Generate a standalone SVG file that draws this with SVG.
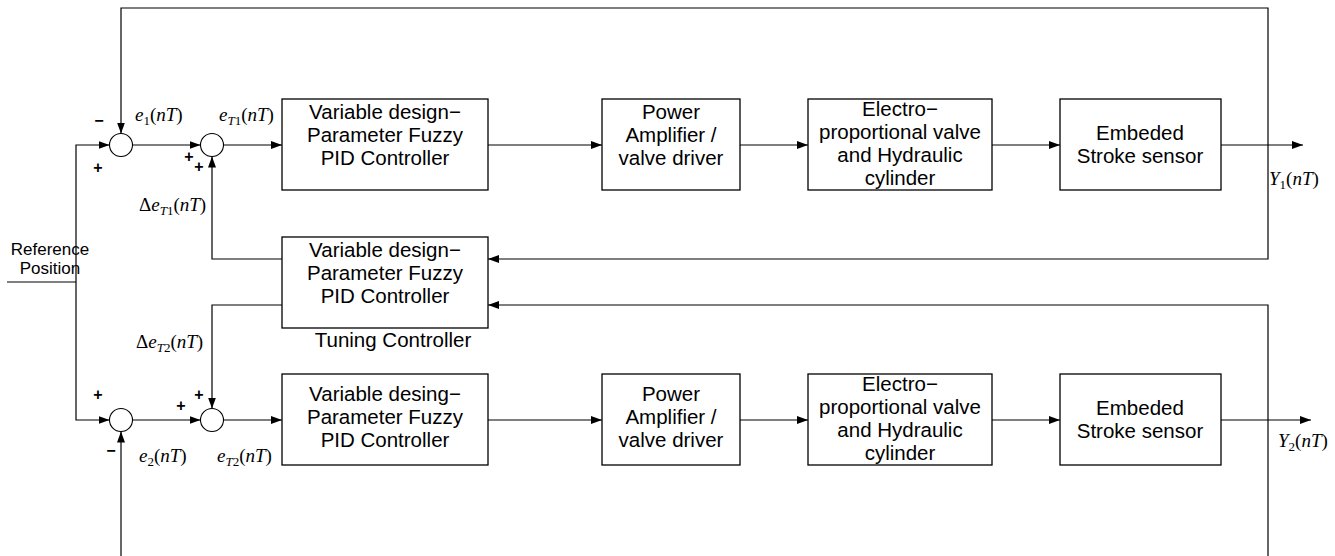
<svg xmlns="http://www.w3.org/2000/svg" width="1335" height="556" viewBox="0 0 1335 556">
<defs>
<marker id="arr" markerWidth="12" markerHeight="10" refX="11" refY="4" orient="auto" markerUnits="userSpaceOnUse"><path d="M0,0 L11,4 L0,8 z" fill="#000"/></marker>
<style>
.box{fill:#fff;stroke:#000;stroke-width:1.3}
.sum{fill:#fff;stroke:#000;stroke-width:1.1}
.ln{fill:none;stroke:#000;stroke-width:1.2}
.bt{font-family:"Liberation Sans",Arial,sans-serif;font-size:20.5px;text-anchor:middle;fill:#000}
.lbl{font-family:"Liberation Sans",Arial,sans-serif;font-size:17px;text-anchor:middle;fill:#000}
.sg{font-family:"Liberation Sans",Arial,sans-serif;font-size:16px;font-weight:bold;text-anchor:middle;fill:#000}
.m{font-family:"Liberation Serif","Times New Roman",serif;font-size:19px;fill:#000}
.i{font-style:italic}
.s{font-size:13px}
</style>
</defs>
<rect width="1335" height="556" fill="#fff"/>
<g id="connectors">
<path class="ln" d="M7,282 H76"/>
<path class="ln" d="M76,282 V145 H109.5" marker-end="url(#arr)"/>
<path class="ln" d="M76,282 V420 H109.5" marker-end="url(#arr)"/>
<path class="ln" d="M132.5,145 H200.5" marker-end="url(#arr)"/>
<path class="ln" d="M223.5,145 H282" marker-end="url(#arr)"/>
<path class="ln" d="M488,145 H602" marker-end="url(#arr)"/>
<path class="ln" d="M740,145 H808" marker-end="url(#arr)"/>
<path class="ln" d="M992,145 H1060" marker-end="url(#arr)"/>
<path class="ln" d="M1221,145 H1303" marker-end="url(#arr)"/>
<path class="ln" d="M1268,145 V8 H121 V133.5" marker-end="url(#arr)"/>
<path class="ln" d="M1268,145 V259 H488" marker-end="url(#arr)"/>
<path class="ln" d="M282,259 H212 V156.5" marker-end="url(#arr)"/>
<path class="ln" d="M282,305 H212 V408.5" marker-end="url(#arr)"/>
<path class="ln" d="M132.5,420 H200.5" marker-end="url(#arr)"/>
<path class="ln" d="M223.5,420 H282" marker-end="url(#arr)"/>
<path class="ln" d="M488,420 H602" marker-end="url(#arr)"/>
<path class="ln" d="M740,420 H808" marker-end="url(#arr)"/>
<path class="ln" d="M992,420 H1060" marker-end="url(#arr)"/>
<path class="ln" d="M1221,420 H1311" marker-end="url(#arr)"/>
<path class="ln" d="M1268,420 V305 H488" marker-end="url(#arr)"/>
<path class="ln" d="M1268,420 V556"/>
<path class="ln" d="M121,556 V431.5" marker-end="url(#arr)"/>
</g>
<g id="sum1"><circle class="sum" cx="121" cy="145" r="11.5"/></g>
<g id="sum2"><circle class="sum" cx="212" cy="145" r="11.5"/></g>
<g id="sum3"><circle class="sum" cx="121" cy="420" r="11.5"/></g>
<g id="sum4"><circle class="sum" cx="212" cy="420" r="11.5"/></g>
<g id="fuzzy1"><rect class="box" x="282" y="99" width="206" height="91"/>
<text class="bt" x="385" y="119">Variable design−</text><text class="bt" x="385" y="142">Parameter Fuzzy</text><text class="bt" x="385" y="165">PID Controller</text></g>
<g id="amp1"><rect class="box" x="602" y="99" width="138" height="91"/>
<text class="bt" x="671" y="119">Power</text><text class="bt" x="671" y="142">Amplifier /</text><text class="bt" x="671" y="165">valve driver</text></g>
<g id="valve1"><rect class="box" x="808" y="99" width="184" height="91"/>
<text class="bt" x="900" y="116">Electro−</text><text class="bt" x="900" y="139">proportional valve</text><text class="bt" x="900" y="162">and Hydraulic</text><text class="bt" x="900" y="185">cylinder</text></g>
<g id="sensor1"><rect class="box" x="1060" y="99" width="161" height="91"/>
<text class="bt" x="1140" y="140">Embeded</text><text class="bt" x="1140" y="163">Stroke sensor</text></g>
<g id="tuning"><rect class="box" x="282" y="237" width="206" height="91"/>
<text class="bt" x="385" y="257">Variable design−</text><text class="bt" x="385" y="280">Parameter Fuzzy</text><text class="bt" x="385" y="303">PID Controller</text>
<text class="bt" x="393" y="347">Tuning Controller</text></g>
<g id="fuzzy2"><rect class="box" x="282" y="374" width="206" height="91"/>
<text class="bt" x="385" y="401">Variable desing−</text><text class="bt" x="385" y="424">Parameter Fuzzy</text><text class="bt" x="385" y="447">PID Controller</text></g>
<g id="amp2"><rect class="box" x="602" y="374" width="138" height="91"/>
<text class="bt" x="671" y="401">Power</text><text class="bt" x="671" y="424">Amplifier /</text><text class="bt" x="671" y="447">valve driver</text></g>
<g id="valve2"><rect class="box" x="808" y="374" width="184" height="91"/>
<text class="bt" x="900" y="391">Electro−</text><text class="bt" x="900" y="414">proportional valve</text><text class="bt" x="900" y="437">and Hydraulic</text><text class="bt" x="900" y="460">cylinder</text></g>
<g id="sensor2"><rect class="box" x="1060" y="374" width="161" height="91"/>
<text class="bt" x="1140" y="415">Embeded</text><text class="bt" x="1140" y="438">Stroke sensor</text></g>
<g id="labels">
<text class="lbl" x="50" y="255">Reference</text><text class="lbl" x="50" y="274">Position</text>
<text class="sg" x="99" y="126">−</text><text class="sg" x="98" y="173">+</text>
<text class="sg" x="189" y="162">+</text><text class="sg" x="199" y="172">+</text>
<text class="sg" x="98" y="400">+</text><text class="sg" x="181" y="411">+</text>
<text class="sg" x="199" y="400">+</text><text class="sg" x="111" y="456">−</text>
<text class="m" x="135" y="121"><tspan class="i">e</tspan><tspan class="s" dy="4">1</tspan><tspan dy="-4">(</tspan><tspan class="i">nT</tspan>)</text>
<text class="m" x="219" y="121"><tspan class="i">e</tspan><tspan class="s i" dy="4">T</tspan><tspan class="s">1</tspan><tspan dy="-4">(</tspan><tspan class="i">nT</tspan>)</text>
<text class="m" x="139" y="211">Δ<tspan class="i">e</tspan><tspan class="s i" dy="4">T</tspan><tspan class="s">1</tspan><tspan dy="-4">(</tspan><tspan class="i">nT</tspan>)</text>
<text class="m" x="136" y="348">Δ<tspan class="i">e</tspan><tspan class="s i" dy="4">T</tspan><tspan class="s">2</tspan><tspan dy="-4">(</tspan><tspan class="i">nT</tspan>)</text>
<text class="m" x="139" y="462"><tspan class="i">e</tspan><tspan class="s" dy="4">2</tspan><tspan dy="-4">(</tspan><tspan class="i">nT</tspan>)</text>
<text class="m" x="217" y="462"><tspan class="i">e</tspan><tspan class="s i" dy="4">T</tspan><tspan class="s">2</tspan><tspan dy="-4">(</tspan><tspan class="i">nT</tspan>)</text>
<text class="m" x="1269" y="185"><tspan class="i">Y</tspan><tspan class="s" dy="4">1</tspan><tspan dy="-4">(</tspan><tspan class="i">nT</tspan>)</text>
<text class="m" x="1278" y="447"><tspan class="i">Y</tspan><tspan class="s" dy="4">2</tspan><tspan dy="-4">(</tspan><tspan class="i">nT</tspan>)</text>
</g>
</svg>
